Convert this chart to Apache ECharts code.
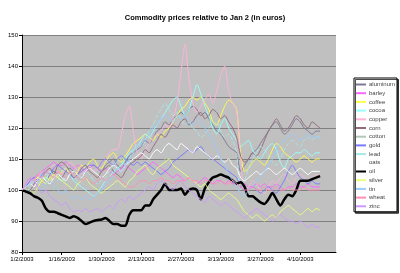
<!DOCTYPE html>
<html><head><meta charset="utf-8">
<script src="https://cdn.jsdelivr.net/npm/echarts@6/dist/echarts.min.js"></script>
<style>html,body{margin:0;padding:0;background:#fff}#c{width:400px;height:273px}</style>
</head><body><div id="c"></div>
<script>
const dates = ["1/2/2003","1/3/2003","1/6/2003","1/7/2003","1/8/2003","1/9/2003","1/10/2003","1/13/2003","1/14/2003","1/15/2003",
"1/16/2003","1/17/2003","1/20/2003","1/21/2003","1/22/2003","1/23/2003","1/24/2003","1/27/2003","1/28/2003","1/29/2003",
"1/30/2003","1/31/2003","2/3/2003","2/4/2003","2/5/2003","2/6/2003","2/7/2003","2/10/2003","2/11/2003","2/12/2003",
"2/13/2003","2/14/2003","2/17/2003","2/18/2003","2/19/2003","2/20/2003","2/21/2003","2/24/2003","2/25/2003","2/26/2003",
"2/27/2003","2/28/2003","3/3/2003","3/4/2003","3/5/2003","3/6/2003","3/7/2003","3/10/2003","3/11/2003","3/12/2003",
"3/13/2003","3/14/2003","3/17/2003","3/18/2003","3/19/2003","3/20/2003","3/21/2003","3/24/2003","3/25/2003","3/26/2003",
"3/27/2003","3/28/2003","3/31/2003","4/1/2003","4/2/2003","4/3/2003","4/4/2003","4/7/2003","4/8/2003","4/9/2003",
"4/10/2003","4/11/2003","4/14/2003","4/15/2003","4/16/2003","4/17/2003","4/18/2003","4/21/2003","4/22/2003","4/23/2003"];

const aluminum = [100,101,102,101,103,104,103,105,106,105, 104,106,107,106,105,104,106,107,108,107, 106,108,109,110,108,107,109,111,112,113, 114,116,115,117,119,120,122,121,123,124, 125,124,126,127,126,124,125,123,121,119, 118,116,114,113,112,106,108,110,112,113, 115,117,119,121,122,120,118,119,121,123, 122,120,119,118,119,119];
const barley = [100,101,103,104,105,106,107,108,109,108, 108,109,108,107,108,107,106,107,108,107, 106,107,106,105,106,107,108,107,106,105, 106,107,108,109,108,107,106,105,104,105, 104,103,104,103,102,103,104,103,102,103, 103,102,103,102,102,101,102,101,101,102, 101,102,101,101,102,101,100,101,101,102, 101,101,102,101,101,101];
const coffee = [100,101,100,99,101,103,104,103,105,104, 106,107,105,104,106,108,107,109,110,108, 107,109,111,112,110,109,111,113,115,116, 117,118,117,116,118,117,119,120,122,124, 126,127,129,130,129,130,128,126,122,121, 124,127,129,128,126,112,106,107,109,110, 109,108,110,113,115,114,112,111,110,109, 110,111,110,109,110,110];
const cocoa = [100,102,103,101,104,105,103,106,105,104, 103,104,105,103,102,101,100,99,98,99, 101,103,104,106,107,108,110,112,113,114, 116,118,117,119,121,123,125,127,129,130, 127,124,126,130,134,131,127,124,120,118, 121,123,120,118,116,114,115,116,113,111, 110,112,114,115,113,109,107,110,111,112, 112,113,112,111,112,112];
const copper = [100,102,103,101,104,106,105,107,108,106, 105,107,109,108,106,105,107,108,106,107, 109,110,112,113,113,118,124,127,119,112, 110,113,115,117,118,119,121,120,123,128, 138,147,136,128,125,127,129,131,128,132, 137,140,132,128,126,110,100,101,103,102, 100,99,101,103,102,104,105,103,102,104, 105,104,103,104,105,104];
const corn = [100,101,100,102,103,104,106,107,105,108, 109,108,106,104,105,107,108,106,105,104, 106,107,108,106,105,104,106,108,109,110, 111,113,112,114,116,118,117,119,121,120, 122,123,121,122,124,125,123,124,126,125, 123,124,122,120,117,111,109,110,112,111, 113,116,119,121,123,121,119,120,122,124, 123,121,120,122,121,120];
const cotton = [100,101,100,99,100,101,102,101,100,101, 102,103,102,101,100,101,102,103,102,101, 100,99,100,101,102,100,101,102,101,100, 101,102,103,102,104,107,110,113,115,116, 118,119,117,115,114,113,111,110,108,107, 106,105,104,103,102,98,97,97,96,97, 98,97,96,97,98,99,98,97,98,99, 99,98,99,98,98,98];
const gold = [100,101,103,104,103,105,106,105,107,108, 107,106,105,104,105,106,107,108,108,107, 109,110,109,108,110,111,110,109,108,109, 108,109,108,107,106,105,106,107,109,110, 111,112,113,112,113,114,112,111,110,109, 108,107,106,105,104,101,100,100,101,100, 99,100,101,100,99,101,103,106,108,106, 104,103,102,103,102,102];
const lead = [100,99,101,103,102,104,105,106,104,103, 105,107,106,105,103,104,106,105,103,102, 103,104,106,108,109,110,108,110,113,115, 114,116,119,121,124,126,128,126,124,125, 123,121,122,120,119,117,118,120,121,122, 119,117,118,116,112,100,103,107,110,112, 114,113,111,109,108,110,113,115,116,115, 114,116,117,116,117,117];
const oats = [100,101,102,101,103,104,103,102,104,105, 104,103,105,106,105,104,106,107,106,105, 104,105,107,108,107,106,108,109,110,111, 112,111,110,112,113,112,114,115,114,113, 115,114,113,112,114,113,112,111,110,111, 110,109,110,108,107,104,103,104,105,106, 105,106,107,106,105,106,107,106,105,106, 107,106,105,106,106,106];
const oil = [100,99.5,99,98,97.5,96.5,94,93,93,92.5, 92,91.5,91,91.5,91,90,89,89.5,90,90.3, 90.5,91,90,89,89,88.5,88.5,92,93.5,93.5, 93.5,95,95,97,98.5,100,102,100,100,100, 100.5,98.5,100,100.5,100,97,100.5,102.5,104,104.5, 105,104.5,104,103,102,102.5,101,98,98,97, 96,95.5,97,99,97,95,97,98.5,98,100, 103,103,103,103.5,104,104.5];
const silver = [100,101,102,103,104,103,102,104,105,104, 103,102,101,100,102,103,104,102,101,100, 99,100,101,102,103,102,101,103,104,106, 107,108,106,105,107,108,109,110,108,107, 106,105,104,103,102,101,102,100,99,98, 97,98,99,98,97,95,93,92,91,92, 91,90,91,92,91,93,94,95,94,93, 92,93,94,93,94,93.5];
const tin = [100,101,102,103,101,100,102,103,101,100, 99,100,98,97,98,97,98,97,98,99, 100,102,103,105,107,106,108,110,112,114, 115,116,118,120,121,123,124,123,122,124, 123,124,122,121,123,122,120,118,116,113, 110,108,105,103,101,99,98,100,101,103, 104,106,108,110,113,115,116,117,118,117, 116,117,118,117,117,117];
const wheat = [100,102,104,103,105,104,106,105,104,106, 105,104,106,105,104,103,104,103,102,103, 104,103,104,105,104,103,102,101,101,102, 103,103,102,103,103,104,103,103,102,103, 103,103,104,103,103,102,103,103,102,102, 103,102,102,103,102,101,100,100,101,100, 100,101,100,100,101,100,100,101,100,100, 100,101,100,100,100,100];
const zinc = [100,102,104,103,101,99,100,98,97,96, 95,96,94,93,93.5,93,94,93,93.5,94, 93,94,95,94,96,97,96,98,97,98, 99,100,101,100,102,103,102,101,100,102, 103,101,100,99,98,97,96,98,97,96, 95,96,95,94,93,92,91,92,93,94, 93,92,91,90,91,92,91,90,90,89, 90,89,88,89,88,88];

const seriesDefs = [
  ["aluminum", aluminum, "#7a7a96", 1, "solid"],
  ["barley", barley, "#ff66ff", 1, "solid"],
  ["coffee", coffee, "#ffff4d", 1, "solid"],
  ["cocoa", cocoa, "#99ffff", 1, "solid"],
  ["copper", copper, "#ffb3d9", 1, "solid"],
  ["corn", corn, "#946a7a", 1, "solid"],
  ["cotton", cotton, "#b0c8b8", 1, "solid"],
  ["gold", gold, "#7a7aff", 1, "solid"],
  ["lead", lead, "#a6e8e8", 1, "dashed"],
  ["oats", oats, "#ffffff", 1, "solid"],
  ["oil", oil, "#000000", 2.5, "solid"],
  ["silver", silver, "#e8ff80", 1, "solid"],
  ["tin", tin, "#99ccff", 1, "solid"],
  ["wheat", wheat, "#ff8fb3", 1, "solid"],
  ["zinc", zinc, "#cc99ff", 1, "solid"]
];

const chart = echarts.init(document.getElementById('c'), null, {renderer:'canvas'});
const FONT = 'Liberation Sans, Arial, sans-serif';
chart.setOption({
  animation: false,
  backgroundColor: '#ffffff',
  title: {
    text: 'Commodity prices relative to Jan 2 (in euros)',
    left: 200, top: 9, textAlign: 'center',
    textStyle: {fontSize: 7.5, fontWeight: 'bold', color: '#000', fontFamily: FONT}
  },
  grid: {left: 22, right: 64, top: 35, bottom: 21, show: true, backgroundColor: '#c0c0c0', borderWidth: 0},
  legend: {
    orient: 'vertical', left: 354, top: 78, width: 40,
    padding: [3, 2, 2, 2],
    itemGap: 1.7, itemWidth: 10, itemHeight: 2, icon: 'rect',
    backgroundColor: '#ffffff', borderColor: '#000000', borderWidth: 1, borderRadius: 0,
    shadowColor: 'rgba(0,0,0,0.7)', shadowOffsetX: 1.5, shadowOffsetY: 1.5, shadowBlur: 0,
    textStyle: {fontSize: 6, color: '#444', fontFamily: FONT, padding: [0,0,0,-2], lineHeight: 7},
    data: seriesDefs.map(d => d[0])
  },
  xAxis: {
    type: 'category', data: dates, boundaryGap: false,
    axisLine: {lineStyle: {color: '#000', width: 1}},
    axisTick: {interval: 9, length: 3, lineStyle: {color: '#000'}},
    axisLabel: {interval: 9, fontSize: 6, color: '#000', margin: 4, fontFamily: FONT},
    splitLine: {show: false}
  },
  yAxis: {
    type: 'value', min: 80, max: 150, interval: 10,
    axisLine: {show: true, lineStyle: {color: '#000', width: 1}},
    axisTick: {show: true, length: 3, lineStyle: {color: '#000'}},
    axisLabel: {fontSize: 6, color: '#000', margin: 4, fontFamily: FONT},
    splitLine: {show: true, lineStyle: {color: '#808080', width: 1}}
  },
  series: seriesDefs.map(d => ({
    name: d[0], type: 'line', data: d[1], showSymbol: false, symbol: 'none',
    smooth: 0.25,
    itemStyle: {color: d[2]},
    lineStyle: {color: d[2], width: d[3], type: d[4]}
  }))
});
</script></body></html>
